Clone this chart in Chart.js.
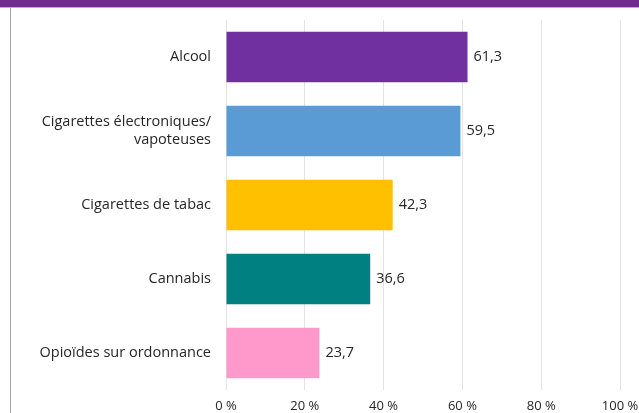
<!DOCTYPE html>
<html lang="fr">
<head>
    <meta charset="UTF-8">
    <title>Substances</title>
    <script src="https://cdn.jsdelivr.net/npm/chart.js"></script>
    <style>
        html, body { margin: 0; padding: 0; background: #ffffff; }
        body { width: 639px; height: 413px; position: relative; overflow: hidden; font-family: 'Open Sans', sans-serif; }
        .band { position: absolute; left: 0; top: 0; width: 639px; height: 7px; background: #702c91; border-bottom: 1px solid #b9b2bd; }
        .frame { position: absolute; left: 10px; top: 8px; width: 0; height: 405px; border-left: 1px solid #a6a6a6; }
        .chart-box { position: absolute; left: 0; top: 0; width: 639px; height: 413px; }
    </style>
</head>
<body>
    <div class="chart-box"><canvas id="chart"></canvas></div>
    <div class="band"></div>
    <div class="frame"></div>

    <script>
        // values (percent)
        const categories = ['Alcool', ['Cigarettes électroniques/', 'vapoteuses'], 'Cigarettes de tabac', 'Cannabis', 'Opioïdes sur ordonnance'];
        const values = [61.3, 59.5, 42.3, 36.6, 23.7];
        const barColors = ['#7030a0', '#5b9bd5', '#ffc000', '#008080', '#ff99cc'];
        const xTicks = [0, 20, 40, 60, 80, 100];

        // write the value at the end of each bar, French decimal comma
        const valueLabels = {
            id: 'valueLabels',
            afterDatasetsDraw(chart) {
                const ctx = chart.ctx;
                const meta = chart.getDatasetMeta(0);
                ctx.save();
                ctx.font = '14.5px "Open Sans"';
                ctx.fillStyle = '#262626';
                ctx.textBaseline = 'middle';
                ctx.textAlign = 'left';
                meta.data.forEach((bar, i) => {
                    ctx.fillText(values[i].toFixed(1).replace('.', ','), bar.x + 6, bar.y);
                });
                ctx.restore();
            }
        };

        new Chart(document.getElementById('chart'), {
            type: 'bar',
            data: {
                labels: categories,
                datasets: [{
                    data: values,
                    backgroundColor: barColors,
                    borderWidth: 0,
                    barPercentage: 0.68,
                    categoryPercentage: 1
                }]
            },
            options: {
                indexAxis: 'y',
                responsive: true,
                maintainAspectRatio: false,
                animation: false,
                layout: { padding: { top: 20, right: 19, left: 0, bottom: 0 } },
                plugins: {
                    legend: { display: false },
                    tooltip: { enabled: false }
                },
                scales: {
                    x: {
                        min: 0,
                        max: 100,
                        afterBuildTicks: (axis) => { axis.ticks = xTicks.map(v => ({ value: v })); },
                        afterFit: (axis) => {
                            axis.height = 23;
                            axis.paddingLeft = 0;
                            axis.paddingRight = 0;
                        },
                        grid: { color: '#e3e3e3', drawTicks: false },
                        border: { display: false },
                        ticks: {
                            padding: 8,
                            color: '#262626',
                            font: { family: 'Open Sans', size: 13 },
                            callback: (v) => v + ' %'
                        }
                    },
                    y: {
                        afterFit: (axis) => {
                            axis.width = 226;
                            axis.paddingTop = 0;
                            axis.paddingBottom = 0;
                        },
                        grid: { display: false, drawTicks: false },
                        border: { display: false },
                        ticks: {
                            padding: 15,
                            color: '#262626',
                            font: { family: 'Open Sans', size: 14.5, lineHeight: 1.25 }
                        }
                    }
                }
            },
            plugins: [valueLabels]
        });
    </script>
</body>
</html>
